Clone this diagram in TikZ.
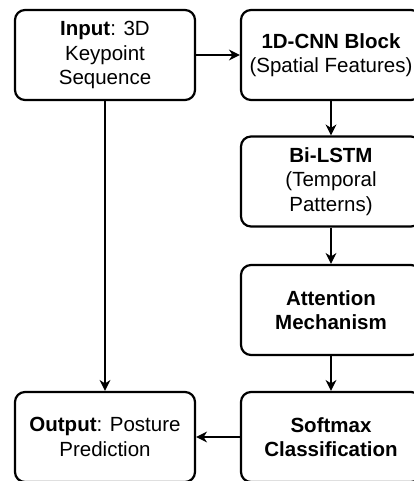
\documentclass[tikz,border=0pt]{standalone}
\usepackage{fontspec}
\setmainfont{Liberation Sans}
\usetikzlibrary{arrows.meta}
\begin{document}
\begin{tikzpicture}[x=1pt,y=-1pt,
  stage/.style={draw=black, line width=2.2pt, rounded corners=10pt, fill=white,
    minimum width=180pt, minimum height=90pt, inner sep=0pt, align=center,
    font=\fontsize{20.5}{24.5}\selectfont},
  flow/.style={draw=black, line width=1.3pt, -{Stealth[length=11pt,width=11pt]}}]
  \clip (0,0) rectangle (414,481);
  \fill[white] (0,0) rectangle (414,481);
  % left column
  \node[stage] (input)  at (105,55)  {\textbf{Input}: 3D\\Keypoint\\Sequence};
  \node[stage] (output) at (105,437) {\textbf{Output}: Posture\\Prediction};
  % right column
  \node[stage] (cnn)     at (331,55)  {\textbf{1D-CNN Block}\\(Spatial Features)};
  \node[stage] (lstm)    at (331,181.5) {\textbf{Bi-LSTM}\\(Temporal\\Patterns)};
  \node[stage] (attn)    at (331,310) {\textbf{Attention}\\\textbf{Mechanism}};
  \node[stage] (softmax) at (331,437) {\textbf{Softmax}\\\textbf{Classification}};
  % connectors
  \draw[flow] (input) -- (cnn);
  \draw[flow] (cnn) -- (lstm);
  \draw[flow] (lstm) -- (attn);
  \draw[flow] (attn) -- (softmax);
  \draw[flow] (softmax) -- (output);
  \draw[flow] (input) -- (output);
\end{tikzpicture}
\end{document}
